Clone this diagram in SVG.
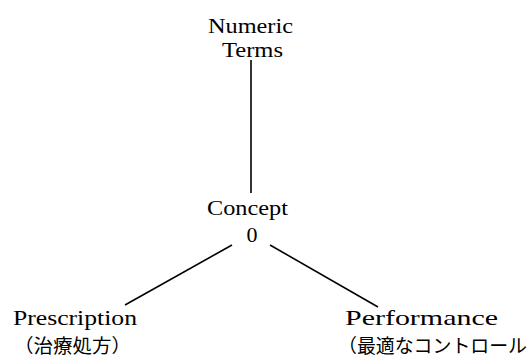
<svg xmlns="http://www.w3.org/2000/svg" width="531" height="360" viewBox="0 0 531 360">
<style>
.t{font-family:"Liberation Serif","Noto Sans CJK JP",serif;font-size:22px;fill:#000}
.j{font-family:"Noto Sans CJK JP","Noto Sans CJK SC",sans-serif;font-size:19px;fill:#000}
.c{stroke:#000;stroke-width:1.6;fill:none}
</style>
<rect width="531" height="360" fill="#fff"/>
<g id="connectors">
<line class="c" x1="251" y1="60" x2="251" y2="193"/>
<line class="c" x1="232" y1="245" x2="125" y2="305"/>
<line class="c" x1="270" y1="245" x2="378" y2="307"/>
</g>
<g id="numeric-terms">
<text class="t" x="208" y="33" textLength="85" lengthAdjust="spacingAndGlyphs">Numeric</text>
<text class="t" x="222" y="57" textLength="61" lengthAdjust="spacingAndGlyphs">Terms</text>
</g>
<g id="concept">
<text class="t" x="207" y="215" textLength="81" lengthAdjust="spacingAndGlyphs">Concept</text>
<text class="t" x="252" y="242" text-anchor="middle">0</text>
</g>
<g id="prescription">
<text class="t" x="13" y="325" textLength="124" lengthAdjust="spacingAndGlyphs">Prescription</text>
<text class="j" x="14" y="353" textLength="117" lengthAdjust="spacingAndGlyphs">（治療処方）</text>
</g>
<g id="performance">
<text class="t" x="345" y="325" textLength="153" lengthAdjust="spacingAndGlyphs">Performance</text>
<text class="j" x="338" y="353" textLength="189" lengthAdjust="spacingAndGlyphs">（最適なコントロール</text>
</g>
</svg>
